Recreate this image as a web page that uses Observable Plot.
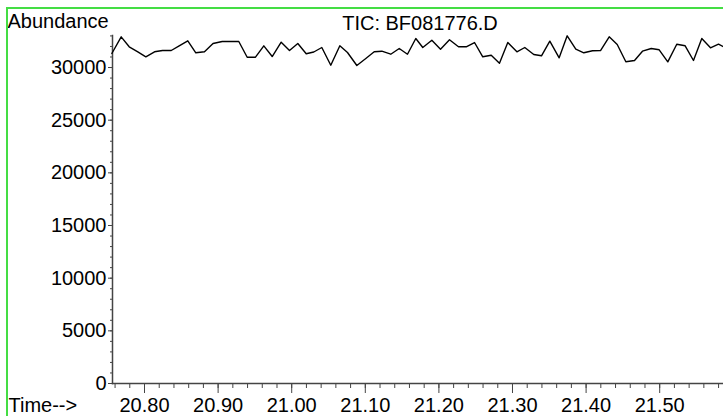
<!DOCTYPE html>
<html>
<head>
<meta charset="utf-8">
<script src="https://cdn.jsdelivr.net/npm/d3@7"></script>
<script src="https://cdn.jsdelivr.net/npm/@observablehq/plot@0.6"></script>
<style>
  html, body { margin: 0; padding: 0; background: #fff; overflow: hidden; }
  #wrap { position: relative; width: 723px; height: 416px; overflow: hidden; }
  #border { position: absolute; z-index: 2; left: 6px; top: 7px; width: 800px; height: 500px;
            border-left: 2px solid #44dd44; border-top: 2px solid #44dd44; pointer-events: none; }
  svg { position: absolute; left: 0; top: 0; z-index: 1; }
</style>
</head>
<body>
<div id="wrap"><div id="border"></div></div>
<script>
const title = "TIC: BF081776.D";
const yLabel = "Abundance";
const xLabel = "Time-->";

const times = [
  20.7556, 20.7683, 20.7792, 20.7909, 20.8018, 20.8136, 20.8245, 20.8363, 20.8471, 20.8588,
  20.8697, 20.8815, 20.8931, 20.9056, 20.9168, 20.9281, 20.9395, 20.9508, 20.9621, 20.9735,
  20.9857, 20.9970, 21.0083, 21.0197, 21.0300, 21.0409, 21.0531, 21.0654, 21.0758, 21.0885,
  21.1007, 21.1121, 21.1224, 21.1346, 21.1461, 21.1573, 21.1686, 21.1781, 21.1904, 21.2022,
  21.2144, 21.2266, 21.2371, 21.2484, 21.2596, 21.2711, 21.2823, 21.2936, 21.3060, 21.3167,
  21.3289, 21.3394, 21.3507, 21.3634, 21.3743, 21.3860, 21.3969, 21.4087, 21.4196, 21.4314,
  21.4423, 21.4540, 21.4658, 21.4766, 21.4885, 21.4993, 21.5110, 21.5232, 21.5346, 21.5459,
  21.5572, 21.5690, 21.5799, 21.5867
];
const abundance = [
  31330, 32915, 31966, 31492, 31017, 31492, 31615, 31615, 32061, 32536,
  31397, 31492, 32280, 32469, 32469, 32469, 30979, 30979, 32061, 31045,
  32404, 31615, 32280, 31302, 31473, 31900, 30220, 32061, 31425, 30191,
  30856, 31492, 31549, 31264, 31805, 31264, 32754, 31900, 32593, 31738,
  32631, 31966, 31966, 32375, 31017, 31169, 30409, 32375, 31492, 31900,
  31235, 31112, 32498, 30922, 33011, 31738, 31397, 31587, 31615, 32915,
  32185, 30542, 30666, 31549, 31805, 31681, 30542, 32213, 32061, 30666,
  32754, 31871, 32213, 31966
];

const xTicks = [20.80, 20.90, 21.00, 21.10, 21.20, 21.30, 21.40, 21.50];
const xTickLabels = ["20.80", "20.90", "21.00", "21.10", "21.20", "21.30", "21.40", "21.50"];
const yTicks = [0, 5000, 10000, 15000, 20000, 25000, 30000];
const yTickLabels = ["0", "5000", "10000", "15000", "20000", "25000", "30000"];

const xDomain = [20.7565, 21.5867];
const yDomain = [0, 33040];

const data = times.map((t, i) => ({t, a: abundance[i]}));
const xMinor = d3.range(0, 42).map(i => 20.76 + i * 0.02);
const yMinor = d3.range(0, 34).map(i => i * 1000);

const axisColor = "#444";

const chart = Plot.plot({
  width: 723,
  height: 416,
  marginLeft: 112,
  marginRight: 0,
  marginTop: 35,
  marginBottom: 33,
  style: {fontFamily: "'Liberation Sans', Arial, sans-serif", fontSize: "20px", background: "transparent", overflow: "visible", color: "#000"},
  x: {domain: xDomain},
  y: {domain: yDomain},
  marks: [
    Plot.axisY(yMinor, {tickSize: 2, text: null, label: null, stroke: axisColor}),
    Plot.axisY(yTicks, {tickSize: 4, tickPadding: 2, label: null, stroke: axisColor, fill: "#000", fontSize: 20,
      tickFormat: d => yTickLabels[yTicks.indexOf(d)]}),
    Plot.axisX(xMinor, {tickSize: 5, text: null, label: null, stroke: axisColor}),
    Plot.axisX(xTicks, {tickSize: 10, tickPadding: 4, label: null, stroke: axisColor, fill: "#000", fontSize: 20,
      tickFormat: d => xTickLabels[xTicks.indexOf(d)]}),
    Plot.frame({anchor: "left", stroke: axisColor, strokeWidth: 1.5}),
    Plot.frame({anchor: "bottom", stroke: axisColor, strokeWidth: 1.5}),
    Plot.line(data, {x: "t", y: "a", stroke: "#000", strokeWidth: 1.4}),
    Plot.text([title], {frameAnchor: "top", text: d => d, dx: 2, dy: -6, lineAnchor: "bottom", fontSize: 20, fill: "#000"}),
    Plot.text([yLabel], {frameAnchor: "top-left", text: d => d, textAnchor: "start", dx: -105, dy: -8, lineAnchor: "bottom", fontSize: 20, fill: "#000"}),
    Plot.text([xLabel], {frameAnchor: "bottom-left", text: d => d, textAnchor: "start", dx: -104, dy: 28, lineAnchor: "bottom", fontSize: 20, fill: "#000"})
  ]
});
document.getElementById("wrap").prepend(chart);
</script>
</body>
</html>
